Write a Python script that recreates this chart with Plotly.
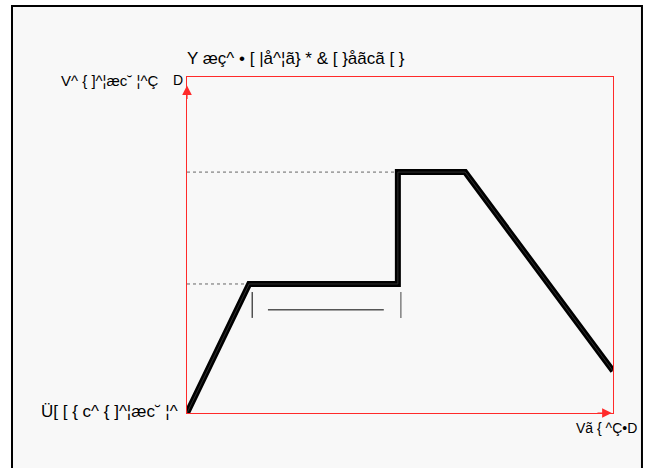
import plotly.graph_objects as go

# soldering profile (time in %, temperature in %)
profile_time = [0, 14.6, 49.5, 49.5, 65.3, 100]
profile_temp = [0, 38.4, 38.4, 71.7, 71.7, 12.5]

# guide levels (dotted)
preheat_level = [0, 14.6]
preheat_temp = [38.4, 38.4]
peak_level = [0, 49.5]
peak_temp = [71.7, 71.7]

# preheat time bracket
bracket_left_x = [15.3, 15.3]
bracket_right_x = [50.2, 50.2]
bracket_y = [36.0, 28.3]
bracket_span_x = [19.0, 46.2]
bracket_span_y = [30.7, 30.7]

title_text = "Y æç^ • [ |å^¦ã} * & [ }åãcã [ }"
ylabel_text = "V^ { ]^¦æc˘ ¦^Ç"
ylabel_end = "D"
room_text = "Ü[ [ { c^ { ]^¦æc˘ ¦^"
xlabel_text = "Vã { ^Ç•D"

RED = "#ff2a2a"
SANS = "Liberation Sans, Arial"

fig = go.Figure()

for xs, ys in [(preheat_level, preheat_temp), (peak_level, peak_temp)]:
    fig.add_trace(go.Scatter(x=xs, y=ys, mode="lines",
                             line=dict(color="#666666", width=1, dash="dot"),
                             hoverinfo="skip"))

fig.add_trace(go.Scatter(x=bracket_left_x, y=bracket_y, mode="lines",
                         line=dict(color="black", width=1)))
fig.add_trace(go.Scatter(x=bracket_right_x, y=bracket_y, mode="lines",
                         line=dict(color="#808080", width=1.5)))
fig.add_trace(go.Scatter(x=bracket_span_x, y=bracket_span_y, mode="lines",
                         line=dict(color="black", width=1)))

fig.add_trace(go.Scatter(x=profile_time, y=profile_temp, mode="lines",
                         line=dict(color="black", width=6)))
fig.add_trace(go.Scatter(x=profile_time, y=profile_temp, mode="lines",
                         line=dict(color="#3c3c3c", width=0.8)))

# outer frame
fig.add_shape(type="rect", xref="paper", yref="paper",
              x0=-0.4108, x1=1.068, y0=-0.19, y1=1.2113,
              line=dict(color="black", width=2), fillcolor="#f8f8f8",
              layer="below")

# axis arrows
fig.add_annotation(x=0, y=97.5, ax=0, ay=93.0, xref="x", yref="y",
                   axref="x", ayref="y", text="", showarrow=True,
                   arrowhead=2, arrowsize=1.6, arrowwidth=1.2, arrowcolor=RED)
fig.add_annotation(x=99.7, y=0, ax=96.0, ay=0, xref="x", yref="y",
                   axref="x", ayref="y", text="", showarrow=True,
                   arrowhead=2, arrowsize=1.6, arrowwidth=1.2, arrowcolor=RED)

fig.add_annotation(x=-0.0047, y=1.0565, xref="paper", yref="paper",
                   text=title_text, showarrow=False, xanchor="left",
                   yanchor="middle",
                   font=dict(family=SANS, size=17, color="black"))
fig.add_annotation(x=-0.0634, y=0.991, xref="paper", yref="paper",
                   text=ylabel_text, showarrow=False, xanchor="right",
                   yanchor="middle",
                   font=dict(family=SANS, size=15, color="black"))
fig.add_annotation(x=-0.0211, y=0.991, xref="paper", yref="paper",
                   text=ylabel_end, showarrow=False, xanchor="center",
                   yanchor="middle",
                   font=dict(family=SANS, size=14, color="black"))
fig.add_annotation(x=-0.0164, y=0.003, xref="paper", yref="paper",
                   text=room_text, showarrow=False, xanchor="right",
                   yanchor="middle",
                   font=dict(family=SANS, size=17, color="black"))
fig.add_annotation(x=0.9085, y=-0.0446, xref="paper", yref="paper",
                   text=xlabel_text, showarrow=False, xanchor="left",
                   yanchor="middle",
                   font=dict(family=SANS, size=14, color="black"))

axis_style = dict(showgrid=False, zeroline=False, showticklabels=False,
                  ticks="", showline=True, linecolor=RED, linewidth=1,
                  mirror=True, fixedrange=True)
fig.update_xaxes(range=[0, 100], **axis_style)
fig.update_yaxes(range=[0, 100], **axis_style)

fig.update_layout(width=649, height=468, showlegend=False,
                  margin=dict(l=187, r=36, t=77, b=55),
                  paper_bgcolor="white", plot_bgcolor="rgba(0,0,0,0)")

# drop the default page margin so the figure sits at the window corner
fig.write_html("out.html",
               config={"displayModeBar": False},
               post_script="document.body.style.margin='0';"
                           "document.body.style.overflow='hidden';")
